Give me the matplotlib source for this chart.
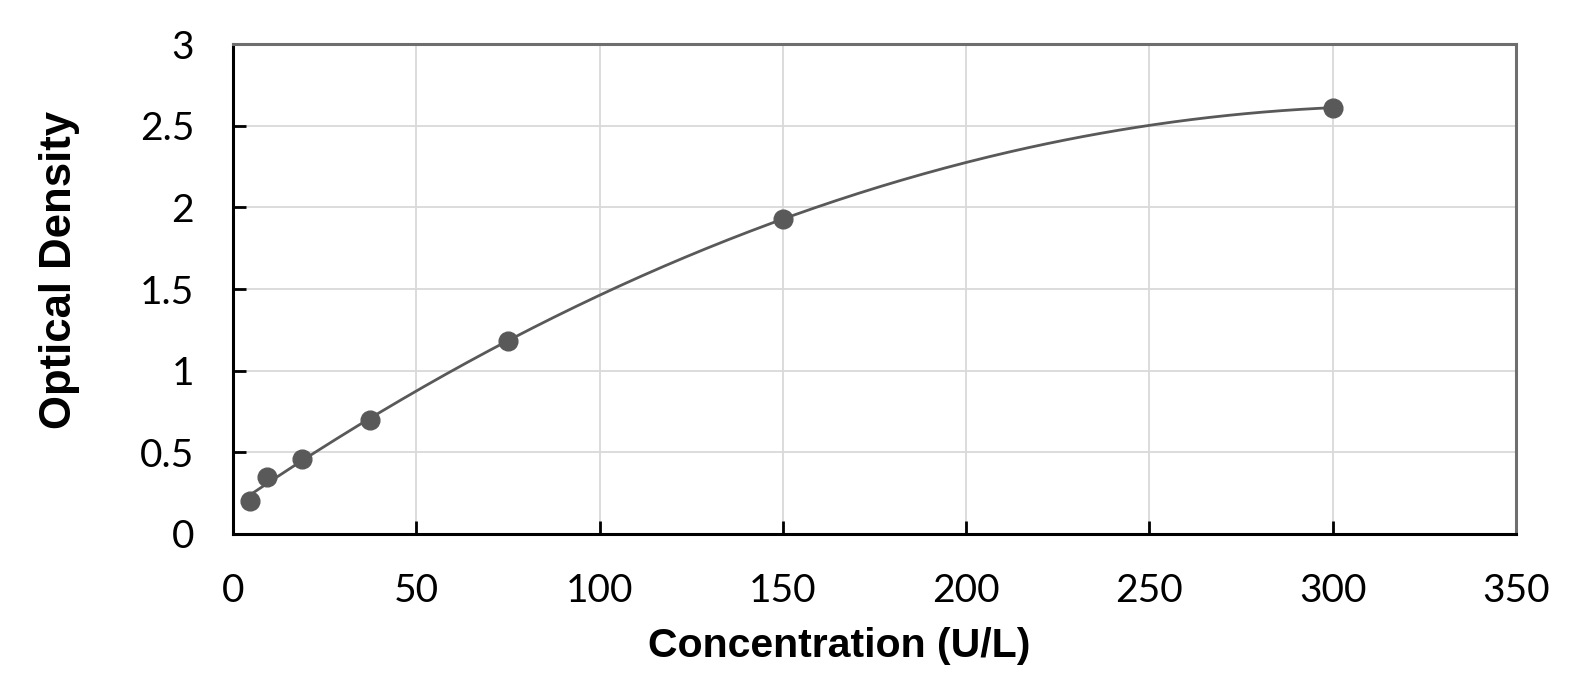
import numpy as np
import matplotlib
matplotlib.use("Agg")
import matplotlib.pyplot as plt

# standard curve readings
conc = [4.69, 9.38, 18.75, 37.5, 75, 150, 300]
od = [0.20, 0.35, 0.46, 0.70, 1.18, 1.93, 2.61]

x_ticks = [0, 50, 100, 150, 200, 250, 300, 350]
y_ticks = [0, 0.5, 1, 1.5, 2, 2.5, 3]
y_tick_labels = ["0", "0.5", "1", "1.5", "2", "2.5", "3"]

GREY = "#595959"
W, H = 1595, 692

fig = plt.figure(figsize=(W / 100, H / 100), dpi=100)
# axes box in pixels: left 233, right 1516, top 44, bottom 534
ax = fig.add_axes([233 / W, 1 - 534 / H, (1516 - 233) / W, (534 - 44) / H])

# fitted curve through the standards
coef = np.polyfit(conc, od, 3)
fit = np.poly1d(coef)
xx = np.linspace(min(conc), max(conc), 300)
ax.plot(xx, fit(xx), color=GREY, lw=2.0, zorder=3)
ax.plot(conc, od, "o", color=GREY, ms=13.5, zorder=4)

ax.set_xlim(0, 350)
ax.set_ylim(0, 3)
ax.set_xticks(x_ticks)
ax.set_yticks(y_ticks)
ax.set_yticklabels(y_tick_labels)
ax.grid(True, color="#d9d9d9", lw=1.3, zorder=0)
ax.set_axisbelow(True)

for s in ["left", "bottom"]:
    ax.spines[s].set_color("black")
    ax.spines[s].set_linewidth(2.2)
for s in ["top", "right"]:
    ax.spines[s].set_color("#6e6e6e")
    ax.spines[s].set_linewidth(2.2)

ax.tick_params(direction="in", length=9.5, width=2, colors="black", pad=28,
               top=False, right=False)
for lab in ax.get_xticklabels() + ax.get_yticklabels():
    lab.set_fontfamily("Lato")
    lab.set_fontsize(28)

ax.set_xlabel("Concentration (U/L)", fontfamily="Liberation Sans", fontweight="bold",
              fontsize=29.5)
ax.set_ylabel("Optical Density", fontfamily="Liberation Sans", fontweight="bold",
              fontsize=31.5)
ax.xaxis.set_label_coords((839 - 233) / 1283, (534 - 646) / 490)
ax.xaxis.label.set_va("center")
ax.yaxis.set_label_coords((60 - 233) / 1283, (534 - 270) / 490)
ax.yaxis.label.set_va("center")

fig.savefig("out.png", dpi=100)
